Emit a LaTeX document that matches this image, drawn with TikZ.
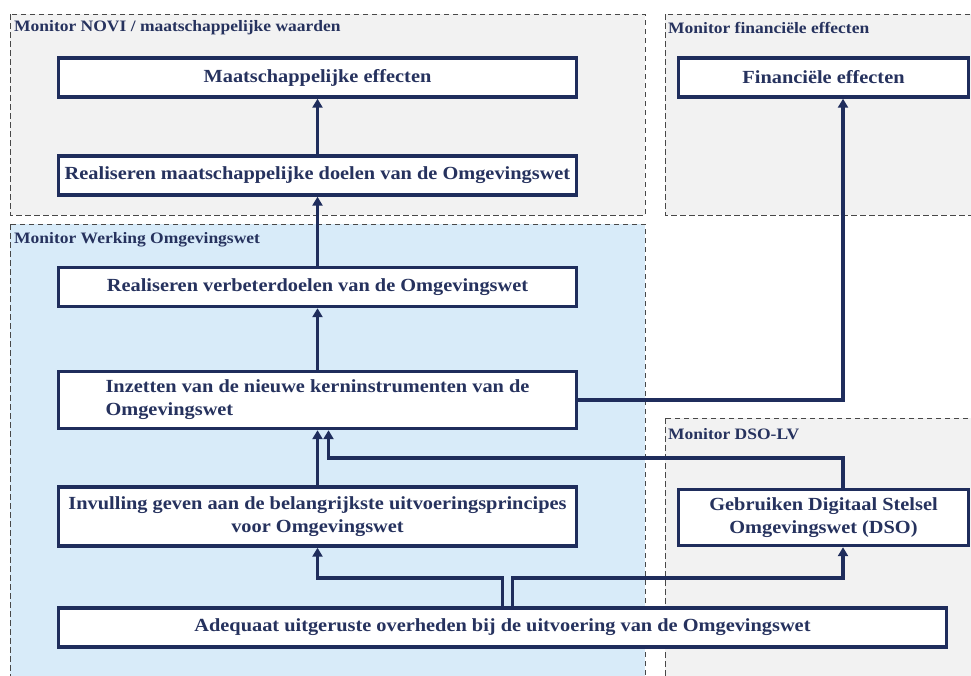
\documentclass[tikz,border=0pt]{standalone}
\usepackage{fontspec}
\setmainfont{Liberation Serif}[FakeStretch=1.1]
\usetikzlibrary{arrows.meta,calc}
\definecolor{navy}{HTML}{1F2D5C}
\definecolor{txtnavy}{HTML}{26325E}
\definecolor{graybg}{HTML}{F2F2F2}
\definecolor{bluebg}{HTML}{D8EBF9}
\definecolor{dashgray}{HTML}{484848}
\tikzset{
  region/.style={draw=dashgray, line width=0.9pt, dash pattern=on 5.5pt off 3.5pt},
  rlabel/.style={anchor=west, inner sep=0pt, text=txtnavy, font=\bfseries\fontsize{15.9}{18}\selectfont},
  box/.style={draw=navy, line width=3.4pt, fill=white, text=txtnavy, inner sep=0pt,
    font=\bfseries\fontsize{18.5}{23}\selectfont, align=center},
  conn/.style={draw=navy, line width=3.2pt, line join=miter, -{Triangle[length=9pt,width=10pt]}}
}
\begin{document}
\begin{tikzpicture}[x=1pt,y=-1pt]
\useasboundingbox (0,0) rectangle (971,675);
\clip (0,0) rectangle (971,675);
\fill[white] (0,0) rectangle (971,675);
% regions
\draw[region, fill=graybg] (10,14) rectangle (645,215);
\draw[region, fill=graybg] (665,14) rectangle (990,215);
\draw[region, fill=bluebg] (10,224) rectangle (645,690);
\draw[region, fill=graybg] (665,418) rectangle (990,690);
\node[rlabel] (l1) at (14,28) {Monitor NOVI / maatschappelijke waarden};
\node[rlabel] (l2) at (668,28) {Monitor financiële effecten};
\node[rlabel] (l3) at (14,240) {Monitor Werking Omgevingswet};
\node[rlabel] (l4) at (668,434) {Monitor DSO-LV};
% boxes
\node[box, minimum width=518pt, minimum height=39pt] (b1) at (317.5,77.5) {Maatschappelijke effecten};
\node[box, minimum width=518pt, minimum height=39pt] (b2) at (317.5,175.5) {Realiseren maatschappelijke doelen van de Omgevingswet};
\node[box, minimum width=518pt, minimum height=39pt] (b3) at (317.5,287) {Realiseren verbeterdoelen van de Omgevingswet};
\node[box, minimum width=518pt, minimum height=57pt, align=left] (b4) at (317.5,400) {Inzetten van de nieuwe kerninstrumenten van de\\Omgevingswet};
\node[box, minimum width=518pt, minimum height=59pt] (b5) at (317.5,516.5) {Invulling geven aan de belangrijkste uitvoeringsprincipes\\voor Omgevingswet};
\node[box, minimum width=888pt, minimum height=39pt] (ad) at (502.5,627.5) {Adequaat uitgeruste overheden bij de uitvoering van de Omgevingswet};
\node[box, minimum width=290pt, minimum height=39pt] (fin) at (823.5,77.5) {Financiële effecten};
\node[box, minimum width=290pt, minimum height=56pt] (dso) at (823.5,517.5) {Gebruiken Digitaal Stelsel\\Omgevingswet (DSO)};
% helper coordinates
\coordinate (xr) at (843,0);
\coordinate (j1) at (328.5,458);
\coordinate (j2) at (317.5,578);
\coordinate (j3) at (512.5,578);
% connectors
\draw[conn] (b2.north) -- (b1.south);
\draw[conn] (b3.north) -- (b2.south);
\draw[conn] (b4.north) -- (b3.south);
\draw[conn] (b5.north) -- (b4.south);
\draw[conn] (b4.east) -| (fin.south -| xr);
\draw[conn] (dso.north -| xr) |- (j1) -- (j1 |- b4.south);
\draw[conn] (ad.north) |- (j2) -- (j2 |- b5.south);
\draw[conn] (ad.north -| j3) -- (j3) -| (dso.south -| xr);
\end{tikzpicture}
\end{document}
